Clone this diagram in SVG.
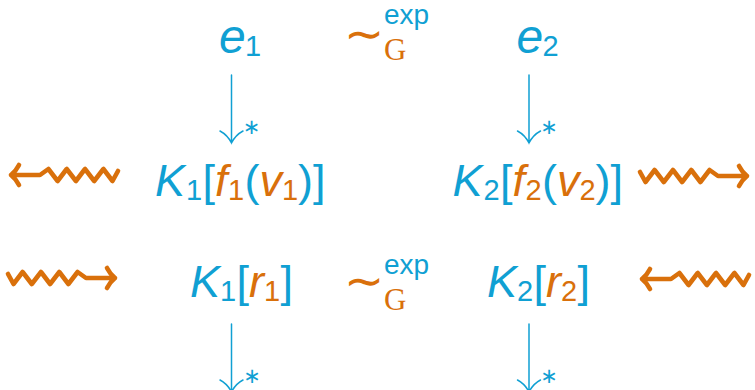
<svg xmlns="http://www.w3.org/2000/svg" width="755" height="390" viewBox="0 0 755 390">
<style>
.t{font-family:"Liberation Sans",Arial,sans-serif;font-size:45px}
.i{font-style:italic}
.s{font-size:29px}
.e{font-size:48px}
.b{fill:#10a0d3}
.o{fill:#d9700b}
.sim{font-family:"DejaVu Sans",sans-serif;font-size:48px;fill:#d9700b}
.exp{font-family:"Liberation Sans",Arial,sans-serif;font-size:28px;fill:#10a0d3}
.G{font-family:"Liberation Serif","Times New Roman",serif;font-size:31px;fill:#d9700b}
.ast{font-family:"DejaVu Sans",sans-serif;font-size:21px;fill:#10a0d3;text-anchor:middle}
</style>
<defs>
<path id="wave" d="M0,-4 L5.5,6 L14.6,-6 L23.8,6 L33,-6 L42.1,6 L51.3,-6 L60.4,6 L69.6,-6 L78,0 L107,0 M99,-10 Q102,-4 107,0 Q102,4 99,10" fill="none" stroke="#d9700b" stroke-width="4.6" stroke-linejoin="round" stroke-linecap="round"/>
<path id="vdown" d="M0,0 L0,68 M-11.5,56 Q-4,60 0,68 Q4,60 11.5,56" fill="none" stroke="#10a0d3" stroke-width="1.5" stroke-linecap="round"/>
</defs>
<g id="e1" class="t"><text class="b"><tspan class="i e" x="219" y="53">e</tspan><tspan class="s" x="245" y="56">1</tspan></text></g>
<g id="e2" class="t"><text class="b"><tspan class="i e" x="516.5" y="53">e</tspan><tspan class="s" x="542.5" y="56">2</tspan></text></g>
<g id="sim1"><text class="sim" x="344" y="49.5">∼</text><text class="exp" x="384" y="24">exp</text><text class="G" x="384" y="60">G</text></g>
<g id="sim2"><text class="sim" x="344" y="297">∼</text><text class="exp" x="384" y="274">exp</text><text class="G" x="384" y="310">G</text></g>
<g id="K1f1v1" class="t"><text class="b"><tspan class="i" x="155" y="196">K</tspan><tspan class="s" x="186" y="200">1</tspan><tspan x="202.5" y="196">[</tspan><tspan class="i o" x="215" y="196">f</tspan><tspan class="s o" x="228" y="200">1</tspan><tspan x="244.5" y="196">(</tspan><tspan class="i o" x="259.5" y="196">v</tspan><tspan class="s o" x="282" y="200">1</tspan><tspan x="298" y="196">)</tspan><tspan x="313" y="196">]</tspan></text></g>
<g id="K2f2v2" class="t"><text class="b"><tspan class="i" x="452.5" y="196">K</tspan><tspan class="s" x="483.5" y="200">2</tspan><tspan x="500" y="196">[</tspan><tspan class="i o" x="512.5" y="196">f</tspan><tspan class="s o" x="525.5" y="200">2</tspan><tspan x="542" y="196">(</tspan><tspan class="i o" x="557" y="196">v</tspan><tspan class="s o" x="579.5" y="200">2</tspan><tspan x="595.5" y="196">)</tspan><tspan x="610.5" y="196">]</tspan></text></g>
<g id="K1r1" class="t"><text class="b"><tspan class="i" x="190" y="297">K</tspan><tspan class="s" x="220" y="301">1</tspan><tspan x="236.5" y="297">[</tspan><tspan class="i o" x="249" y="297">r</tspan><tspan class="s o" x="264" y="301">1</tspan><tspan x="280.5" y="297">]</tspan></text></g>
<g id="K2r2" class="t"><text class="b"><tspan class="i" x="487" y="297">K</tspan><tspan class="s" x="517" y="301">2</tspan><tspan x="533.5" y="297">[</tspan><tspan class="i o" x="546" y="297">r</tspan><tspan class="s o" x="561" y="301">2</tspan><tspan x="577.5" y="297">]</tspan></text></g>
<g id="connectors">
<use href="#vdown" x="231.5" y="75"/>
<use href="#vdown" x="529" y="75"/>
<use href="#vdown" x="231.5" y="324"/>
<use href="#vdown" x="529" y="324"/>
<text class="ast" x="251.5" y="134">∗</text>
<text class="ast" x="549" y="134">∗</text>
<text class="ast" x="252" y="383">∗</text>
<text class="ast" x="549" y="383">∗</text>
<use href="#wave" transform="translate(118,175) scale(-1,1)"/>
<use href="#wave" transform="translate(640,176)"/>
<use href="#wave" transform="translate(8,278)"/>
<use href="#wave" transform="translate(749,279) scale(-1,1)"/>
</g>
</svg>
